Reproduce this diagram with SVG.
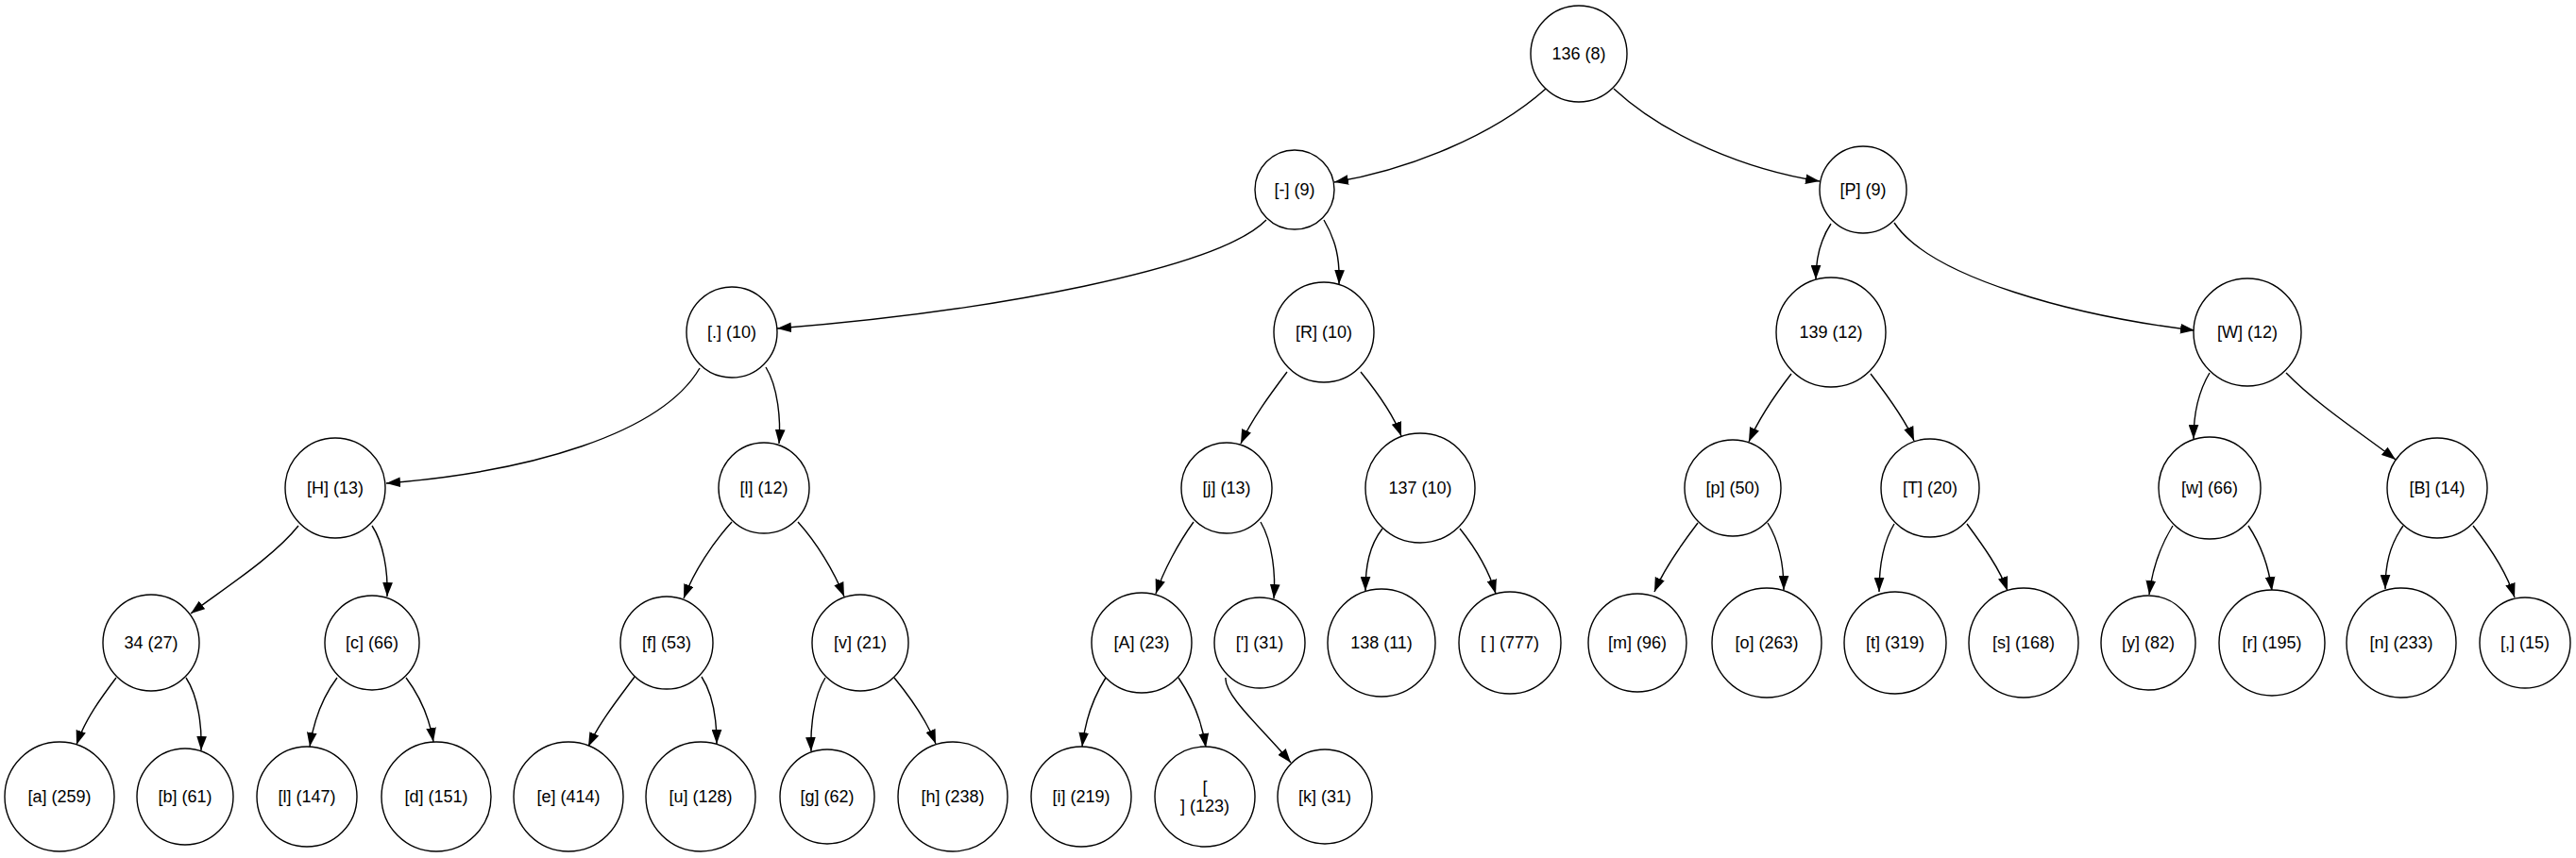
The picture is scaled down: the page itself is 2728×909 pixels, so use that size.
<svg xmlns="http://www.w3.org/2000/svg" width="2728" height="909" viewBox="0 0 2728 909">
<defs>
<marker id="ah" markerUnits="userSpaceOnUse" markerWidth="15" markerHeight="11" refX="14" refY="5" orient="auto" viewBox="0 0 14 10"><path d="M0,0 L14,5 L0,10 z" fill="#000"/></marker>
<style>
.n ellipse{fill:#fff;stroke:#000;stroke-width:1.4}
.n text{font-family:"Liberation Sans",Arial,sans-serif;font-size:18px;text-anchor:middle;fill:#000}
#edges path{fill:none;stroke:#000;stroke-width:1.4;marker-end:url(#ah)}
</style>
</defs>
<rect width="2728" height="909" fill="#fff"/>
<g id="edges">
<path d="M1637,94 C1580,145 1490,180 1413,193"/>
<path d="M1709,94 C1764,145 1850,180 1927,192"/>
<path d="M1341,233 C1290,285 1050,330 823,348"/>
<path d="M1402,233 C1415,255 1419,275 1418,301"/>
<path d="M1939,237 C1927,255 1923,275 1923,296"/>
<path d="M2006,236 C2045,295 2200,335 2324,350"/>
<path d="M741,390 C700,460 560,500 409,512"/>
<path d="M811,389 C824,410 827,445 825,470"/>
<path d="M316,557 C290,590 235,625 202,650"/>
<path d="M394,557 C406,575 411,605 410,632"/>
<path d="M775,553 C755,575 735,605 724,634"/>
<path d="M845,553 C865,575 883,605 894,632"/>
<path d="M123,718 C108,738 90,762 81,789"/>
<path d="M197,718 C210,738 214,770 213,795"/>
<path d="M357,718 C342,738 332,765 328,791"/>
<path d="M430,718 C445,738 455,762 459,786"/>
<path d="M672,717 C655,740 635,765 623,791"/>
<path d="M743,717 C756,737 759,765 759,788"/>
<path d="M874,718 C862,737 858,770 859,796"/>
<path d="M947,718 C965,740 982,765 991,788"/>
<path d="M1363,394 C1345,418 1325,445 1314,470"/>
<path d="M1441,394 C1458,415 1476,440 1484,462"/>
<path d="M1264,553 C1248,575 1232,605 1224,629"/>
<path d="M1335,553 C1348,575 1351,610 1349,634"/>
<path d="M1464,560 C1450,578 1446,600 1446,626"/>
<path d="M1546,560 C1562,580 1577,605 1584,629"/>
<path d="M1171,718 C1157,740 1149,765 1146,791"/>
<path d="M1248,718 C1263,740 1273,765 1277,792"/>
<path d="M1298,718 C1296,737 1340,775 1367,808"/>
<path d="M1897,396 C1880,418 1862,445 1852,468"/>
<path d="M1981,396 C1998,418 2018,445 2027,467"/>
<path d="M2340,395 C2328,415 2323,440 2323,465"/>
<path d="M2421,395 C2455,430 2505,462 2537,487"/>
<path d="M1798,554 C1782,575 1762,603 1752,627"/>
<path d="M1872,554 C1885,575 1889,600 1889,625"/>
<path d="M2006,555 C1994,575 1990,600 1990,627"/>
<path d="M2083,555 C2100,578 2118,603 2126,626"/>
<path d="M2301,557 C2288,578 2279,605 2276,630"/>
<path d="M2381,557 C2395,578 2403,603 2406,626"/>
<path d="M2545,557 C2530,578 2526,600 2526,624"/>
<path d="M2619,557 C2637,580 2655,608 2663,633"/>
</g>
<g id="n0" class="n"><ellipse cx="1672" cy="57" rx="51" ry="51"/><text x="1672" y="63">136 (8)</text></g>
<g id="n1" class="n"><ellipse cx="1371" cy="201" rx="42" ry="42"/><text x="1371" y="207">[-] (9)</text></g>
<g id="n2" class="n"><ellipse cx="1973" cy="201" rx="46" ry="46"/><text x="1973" y="207">[P] (9)</text></g>
<g id="n3" class="n"><ellipse cx="775" cy="352" rx="48" ry="48"/><text x="775" y="358">[.] (10)</text></g>
<g id="n4" class="n"><ellipse cx="1402" cy="352" rx="53" ry="53"/><text x="1402" y="358">[R] (10)</text></g>
<g id="n5" class="n"><ellipse cx="1939" cy="352" rx="58" ry="58"/><text x="1939" y="358">139 (12)</text></g>
<g id="n6" class="n"><ellipse cx="2380" cy="352" rx="57" ry="57"/><text x="2380" y="358">[W] (12)</text></g>
<g id="n7" class="n"><ellipse cx="355" cy="517" rx="53" ry="53"/><text x="355" y="523">[H] (13)</text></g>
<g id="n8" class="n"><ellipse cx="809" cy="517" rx="48" ry="48"/><text x="809" y="523">[l] (12)</text></g>
<g id="n9" class="n"><ellipse cx="1299" cy="517" rx="48" ry="48"/><text x="1299" y="523">[j] (13)</text></g>
<g id="n10" class="n"><ellipse cx="1504" cy="517" rx="58" ry="58"/><text x="1504" y="523">137 (10)</text></g>
<g id="n11" class="n"><ellipse cx="1835" cy="517" rx="51" ry="51"/><text x="1835" y="523">[p] (50)</text></g>
<g id="n12" class="n"><ellipse cx="2044" cy="517" rx="52" ry="52"/><text x="2044" y="523">[T] (20)</text></g>
<g id="n13" class="n"><ellipse cx="2340" cy="517" rx="54" ry="54"/><text x="2340" y="523">[w] (66)</text></g>
<g id="n14" class="n"><ellipse cx="2581" cy="517" rx="53" ry="53"/><text x="2581" y="523">[B] (14)</text></g>
<g id="n15" class="n"><ellipse cx="160" cy="681" rx="51" ry="51"/><text x="160" y="687">34 (27)</text></g>
<g id="n16" class="n"><ellipse cx="394" cy="681" rx="50" ry="50"/><text x="394" y="687">[c] (66)</text></g>
<g id="n17" class="n"><ellipse cx="706" cy="681" rx="49" ry="49"/><text x="706" y="687">[f] (53)</text></g>
<g id="n18" class="n"><ellipse cx="911" cy="681" rx="51" ry="51"/><text x="911" y="687">[v] (21)</text></g>
<g id="n19" class="n"><ellipse cx="1209" cy="681" rx="53" ry="53"/><text x="1209" y="687">[A] (23)</text></g>
<g id="n20" class="n"><ellipse cx="1334" cy="681" rx="48" ry="48"/><text x="1334" y="687">['] (31)</text></g>
<g id="n21" class="n"><ellipse cx="1463" cy="681" rx="57" ry="57"/><text x="1463" y="687">138 (11)</text></g>
<g id="n22" class="n"><ellipse cx="1599" cy="681" rx="54" ry="54"/><text x="1599" y="687">[ ] (777)</text></g>
<g id="n23" class="n"><ellipse cx="1734" cy="681" rx="52" ry="52"/><text x="1734" y="687">[m] (96)</text></g>
<g id="n24" class="n"><ellipse cx="1871" cy="681" rx="58" ry="58"/><text x="1871" y="687">[o] (263)</text></g>
<g id="n25" class="n"><ellipse cx="2007" cy="681" rx="54" ry="54"/><text x="2007" y="687">[t] (319)</text></g>
<g id="n26" class="n"><ellipse cx="2143" cy="681" rx="58" ry="58"/><text x="2143" y="687">[s] (168)</text></g>
<g id="n27" class="n"><ellipse cx="2275" cy="681" rx="50" ry="50"/><text x="2275" y="687">[y] (82)</text></g>
<g id="n28" class="n"><ellipse cx="2406" cy="681" rx="56" ry="56"/><text x="2406" y="687">[r] (195)</text></g>
<g id="n29" class="n"><ellipse cx="2543" cy="681" rx="58" ry="58"/><text x="2543" y="687">[n] (233)</text></g>
<g id="n30" class="n"><ellipse cx="2674" cy="681" rx="48" ry="48"/><text x="2674" y="687">[,] (15)</text></g>
<g id="n31" class="n"><ellipse cx="63" cy="844" rx="58" ry="58"/><text x="63" y="850">[a] (259)</text></g>
<g id="n32" class="n"><ellipse cx="196" cy="844" rx="51" ry="51"/><text x="196" y="850">[b] (61)</text></g>
<g id="n33" class="n"><ellipse cx="325" cy="844" rx="53" ry="53"/><text x="325" y="850">[l] (147)</text></g>
<g id="n34" class="n"><ellipse cx="462" cy="844" rx="58" ry="58"/><text x="462" y="850">[d] (151)</text></g>
<g id="n35" class="n"><ellipse cx="602" cy="844" rx="58" ry="58"/><text x="602" y="850">[e] (414)</text></g>
<g id="n36" class="n"><ellipse cx="742" cy="844" rx="58" ry="58"/><text x="742" y="850">[u] (128)</text></g>
<g id="n37" class="n"><ellipse cx="876" cy="844" rx="50" ry="50"/><text x="876" y="850">[g] (62)</text></g>
<g id="n38" class="n"><ellipse cx="1009" cy="844" rx="58" ry="58"/><text x="1009" y="850">[h] (238)</text></g>
<g id="n39" class="n"><ellipse cx="1145" cy="844" rx="53" ry="53"/><text x="1145" y="850">[i] (219)</text></g>
<g id="n40" class="n"><ellipse cx="1276" cy="844" rx="53" ry="53"/><text x="1276" y="840">[</text><text x="1276" y="860">] (123)</text></g>
<g id="n41" class="n"><ellipse cx="1403" cy="844" rx="50" ry="50"/><text x="1403" y="850">[k] (31)</text></g>
</svg>
